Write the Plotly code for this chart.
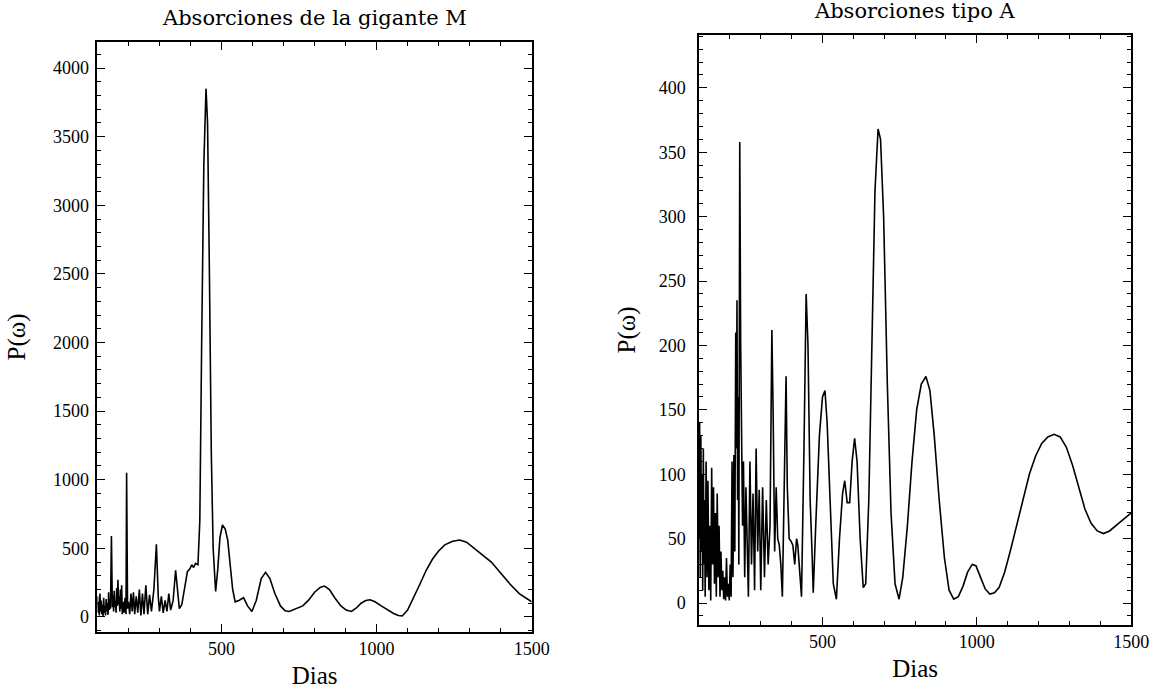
import plotly.graph_objects as go

# Periodogram of the M giant absorptions
dias_m = [100, 102, 104, 106, 108, 110, 112, 114, 116, 118, 120, 122, 124, 126, 128, 130, 132,
          134, 136, 138, 140, 142, 145, 148, 150, 152, 154, 156, 158, 160, 162, 164, 166, 168,
          170, 172, 174, 176, 178, 180, 183, 186, 189, 192, 194, 197, 200, 204, 208, 212, 216,
          220, 225, 230, 235, 240, 245, 250, 256, 262, 268, 274, 282, 290, 296, 300, 306, 312,
          318, 324, 330, 336, 344, 352, 358, 364, 372, 380, 390, 398, 404, 410, 416, 424, 430,
          436, 443, 450, 455, 461, 467, 473, 481, 488, 495, 503, 512, 520, 528, 536, 544, 556,
          571, 584, 598, 612, 628, 642, 656, 672, 690, 705, 718, 735, 750, 762, 780, 800, 818,
          832, 848, 865, 885, 902, 919, 935, 950, 965, 979, 995, 1015, 1035, 1055, 1070, 1083,
          1100, 1120, 1140, 1160, 1180, 1200, 1220, 1245, 1268, 1290, 1315, 1340, 1370, 1400,
          1430, 1460, 1500]
pot_m = [150, 30, 110, 10, 170, 40, 120, 20, 90, 5, 140, 30, 80, 10, 130, 40, 100,
         15, 180, 50, 130, 60, 590, 70, 160, 40, 190, 70, 120, 30, 210, 80, 270, 90,
         150, 40, 200, 60, 230, 20, 110, 30, 140, 20, 1050, 60, 110, 20, 170, 40, 180,
         20, 150, 30, 200, 10, 170, 20, 230, 20, 160, 40, 200, 530, 150, 40, 150, 30,
         120, 40, 170, 50, 120, 340, 200, 60, 90, 200, 330, 350, 380, 360, 390, 380, 700,
         2000, 3300, 3850, 3600, 2500, 1200, 500, 185, 350, 580, 670, 640, 560, 400, 200, 110, 120,
         140, 80, 40, 120, 280, 325, 280, 170, 80, 45, 40, 55, 70, 80, 120, 180, 215,
         225, 200, 140, 80, 50, 40, 65, 100, 120, 125, 110, 80, 50, 25, 10, 7,
         50, 140, 240, 340, 420, 480, 525, 552, 560, 545, 500, 450, 400, 320,
         240, 170, 110]

# Periodogram of the type A absorptions
dias_a = [100, 102, 104, 106, 108, 110, 112, 114, 116, 118, 120, 123, 126, 129, 132, 135, 138,
          141, 144, 147, 150, 153, 156, 159, 162, 165, 168, 171, 174, 177, 180, 183, 186, 189,
          192, 195, 198, 201, 204, 207, 210, 213, 216, 219, 221, 223, 225, 227, 229, 232, 235,
          238, 241, 244, 248, 252, 256, 260, 265, 270, 275, 280, 285, 290, 295, 300, 306, 312,
          318, 324, 330, 336, 340, 345, 350, 355, 360, 365, 370, 378, 382, 386, 392, 398, 404,
          410, 416, 420, 426, 432, 440, 447, 453, 460, 466, 470, 478, 490, 500, 508, 515, 525,
          535, 545, 555, 565, 572, 580, 588, 596, 604, 612, 622, 632, 640, 650, 660, 670, 680,
          688, 698, 710, 722, 735, 748, 760, 775, 790, 805, 820, 835, 848, 862, 878, 895, 910,
          925, 940, 955, 970, 985, 997, 1012, 1027, 1042, 1057, 1072, 1090, 1110, 1130, 1150,
          1170, 1190, 1210, 1230, 1250, 1270, 1290, 1310, 1330, 1350, 1370, 1390, 1410, 1430,
          1460, 1500]
pot_a = [50, 140, 20, 130, 40, 100, 10, 120, 30, 80, 5, 110, 20, 95, 10, 60, 2,
         105, 30, 90, 15, 70, 5, 85, 20, 60, 5, 40, 10, 25, 3, 20, 2, 35,
         5, 15, 2, 30, 5, 110, 20, 115, 40, 210, 120, 235, 80, 160, 30, 358, 200,
         130, 60, 110, 20, 90, 50, 5, 110, 30, 85, 10, 120, 40, 88, 10, 90, 20,
         80, 30, 60, 212, 150, 40, 90, 50, 45, 30, 5, 100, 176, 90, 50, 48, 45,
         30, 50, 45, 20, 5, 120, 240, 200, 80, 40, 8, 60, 130, 160, 165, 140, 70,
         15, 3, 50, 85, 95, 78, 78, 110, 128, 110, 50, 12, 15, 80, 200, 320, 368,
         360, 300, 170, 70, 15, 3, 20, 60, 110, 150, 170, 176, 165, 130, 80, 35, 10,
         3, 5, 13, 24, 30, 29, 20, 11, 7, 8, 12, 24, 42, 62, 82,
         100, 114, 124, 129, 131, 129, 121, 107, 89, 73, 62, 56, 54, 56,
         62, 70]

x_ticks = [500, 1000, 1500]
ticks_m = [0, 500, 1000, 1500, 2000, 2500, 3000, 3500, 4000]
ticks_a = [0, 50, 100, 150, 200, 250, 300, 350, 400]

SERIF = "Liberation Serif, DejaVu Serif, serif"
WIDE_SERIF = "DejaVu Serif, Liberation Serif, serif"
line_style = dict(color="black", width=1.6)

fig = go.Figure()
fig.add_trace(go.Scatter(x=dias_m, y=pot_m, mode="lines", line=line_style,
                         xaxis="x", yaxis="y", showlegend=False))
fig.add_trace(go.Scatter(x=dias_a, y=pot_a, mode="lines", line=line_style,
                         xaxis="x2", yaxis="y2", showlegend=False))

frame = dict(showline=True, linecolor="black", linewidth=1.5, mirror="ticks",
             ticks="inside", ticklen=8, tickwidth=1.2, tickcolor="black",
             showgrid=False, zeroline=False,
             tickfont=dict(family=SERIF, size=18, color="black"))
axis_title_font = dict(family=SERIF, size=25, color="black")

fig.update_layout(
    width=1163, height=690,
    margin=dict(l=0, r=0, t=0, b=0),
    paper_bgcolor="white", plot_bgcolor="white",
    xaxis=dict(frame, domain=[99 / 1163, 540 / 1163], range=[100, 1500],
               tickvals=x_ticks, anchor="y",
               minor=dict(dtick=100, ticklen=4, tickcolor="black", ticks="inside"),
               title=dict(text="Dias", font=axis_title_font, standoff=8)),
    yaxis=dict(frame, domain=[1 - 632 / 690, 1 - 42 / 690], range=[-110, 4190],
               tickvals=ticks_m, anchor="x", ticklabelstandoff=3,
               minor=dict(dtick=100, ticklen=4, tickcolor="black", ticks="inside"),
               title=dict(text="P(ω)", font=axis_title_font, standoff=20)),
    xaxis2=dict(frame, domain=[710 / 1163, 1149 / 1163], range=[100, 1500],
                tickvals=x_ticks, anchor="y2",
                minor=dict(dtick=100, ticklen=4, tickcolor="black", ticks="inside"),
                title=dict(text="Dias", font=axis_title_font, standoff=8)),
    yaxis2=dict(frame, domain=[1 - 625 / 690, 1 - 35 / 690], range=[-17, 441],
                tickvals=ticks_a, anchor="x2", ticklabelstandoff=8,
                minor=dict(dtick=10, ticklen=4, tickcolor="black", ticks="inside"),
                title=dict(text="P(ω)", font=axis_title_font, standoff=16)),
    annotations=[
        dict(text="Absorciones de la gigante M", x=0.5, y=1.0, xref="x domain", yref="y domain",
             xanchor="center", yanchor="bottom", yshift=10, showarrow=False,
             font=dict(family=WIDE_SERIF, size=21, color="black")),
        dict(text="Absorciones tipo A", x=0.5, y=1.0, xref="x2 domain", yref="y2 domain",
             xanchor="center", yanchor="bottom", yshift=10, showarrow=False,
             font=dict(family=WIDE_SERIF, size=21, color="black")),
    ],
)

fig.write_html("out.html")
